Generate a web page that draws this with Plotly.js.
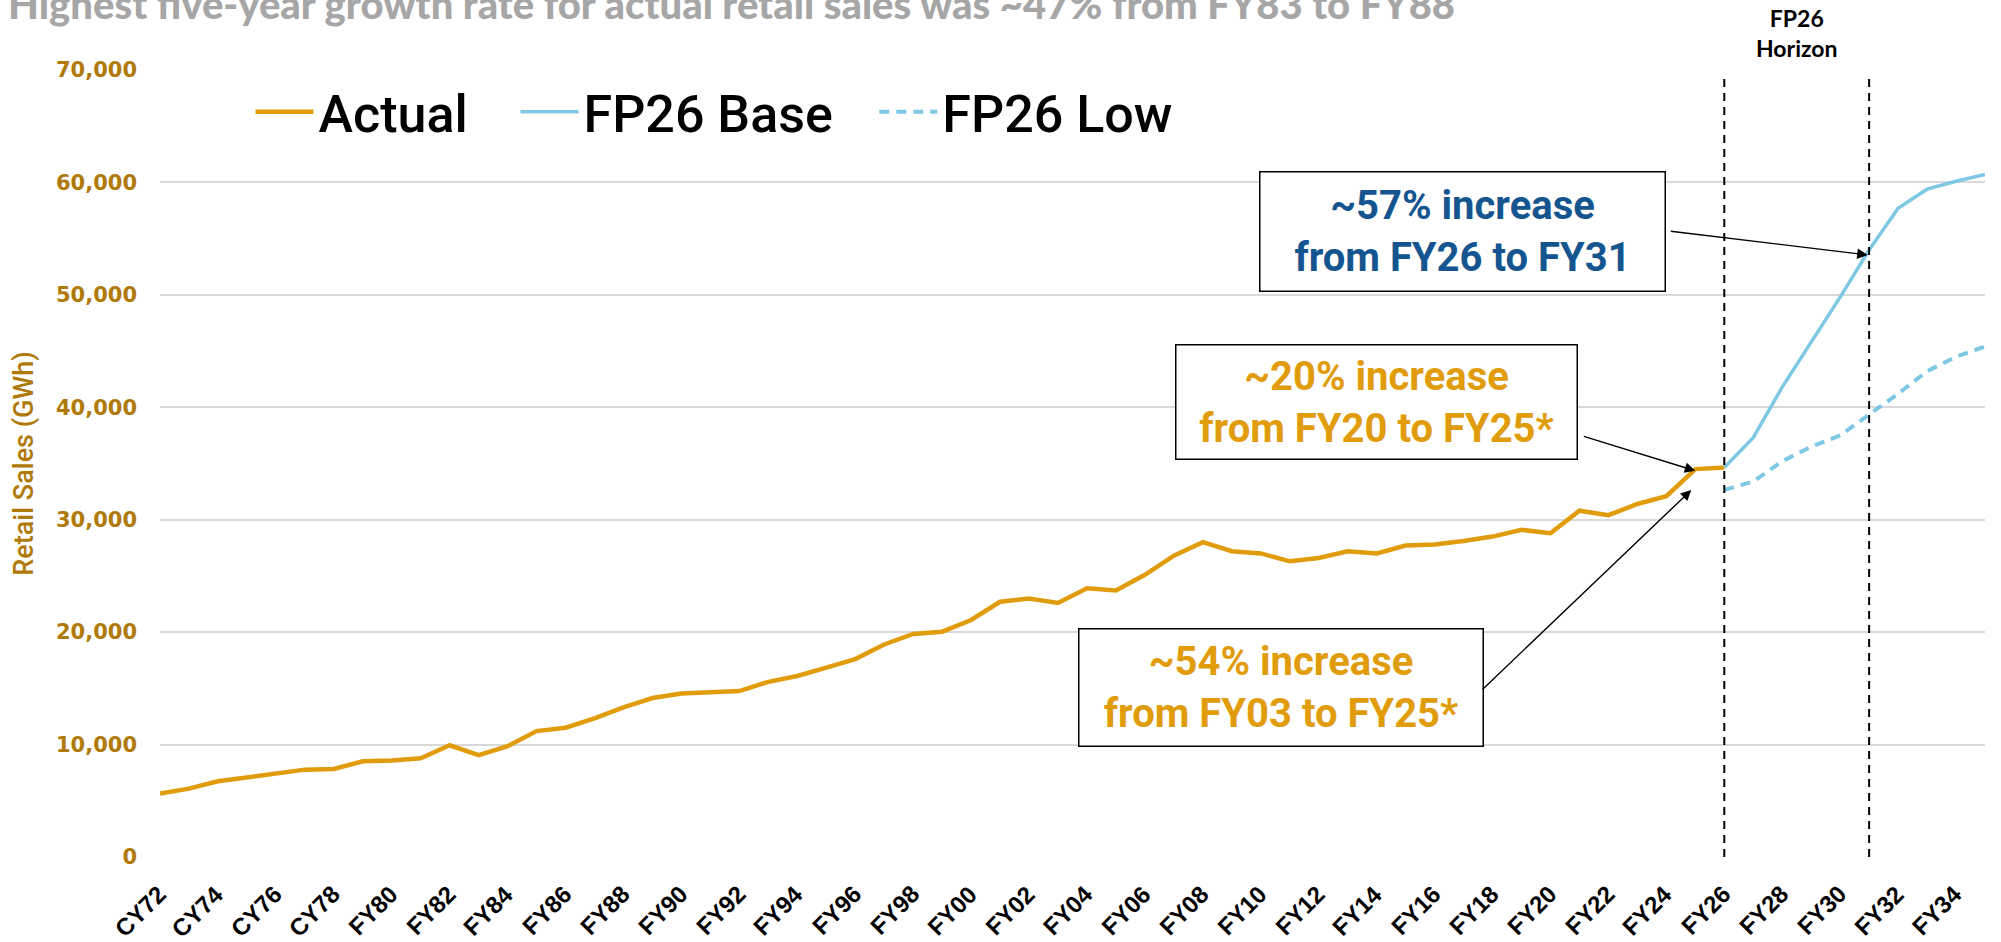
<!DOCTYPE html>
<html>
<head>
<meta charset="utf-8">
<script src="https://cdn.plot.ly/plotly-3.0.1.min.js"></script>
<style>
  html, body { margin: 0; padding: 0; background: #ffffff; }
  #chart { width: 2001px; height: 942px; }
</style>
</head>
<body>
<div id="chart"></div>
<script>
// ---- Data ----
const categories = [
  'CY72','CY73','CY74','CY75','CY76','CY77','CY78','CY79',
  'FY80','FY81','FY82','FY83','FY84','FY85','FY86','FY87','FY88','FY89',
  'FY90','FY91','FY92','FY93','FY94','FY95','FY96','FY97','FY98','FY99',
  'FY00','FY01','FY02','FY03','FY04','FY05','FY06','FY07','FY08','FY09',
  'FY10','FY11','FY12','FY13','FY14','FY15','FY16','FY17','FY18','FY19',
  'FY20','FY21','FY22','FY23','FY24','FY25','FY26','FY27','FY28','FY29',
  'FY30','FY31','FY32','FY33','FY34','FY35'
];

const actualYears = [
  'CY72','CY73','CY74','CY75','CY76','CY77','CY78','CY79',
  'FY80','FY81','FY82','FY83','FY84','FY85','FY86','FY87','FY88','FY89',
  'FY90','FY91','FY92','FY93','FY94','FY95','FY96','FY97','FY98','FY99',
  'FY00','FY01','FY02','FY03','FY04','FY05','FY06','FY07','FY08','FY09',
  'FY10','FY11','FY12','FY13','FY14','FY15','FY16','FY17','FY18','FY19',
  'FY20','FY21','FY22','FY23','FY24','FY25','FY26'
];
const actualSales = [
  5640, 6080, 6740, 7060, 7360, 7770, 7830, 8520,
  8580, 8780, 9940, 9050, 9850, 11200, 11500, 12330, 13300, 14140,
  14550, 14700, 14760, 15580, 16100, 16850, 17600, 18900, 19840, 20040,
  21080, 22700, 23000, 22600, 23900, 23700, 25100, 26800, 28000, 27200,
  27000, 26300, 26600, 27200, 27000, 27700, 27800, 28100, 28500, 29100,
  28800, 30800, 30400, 31400, 32100, 34500, 34650
];

const forecastYears = ['FY26','FY27','FY28','FY29','FY30','FY31','FY32','FY33','FY34','FY35'];
const baseSales = [34650, 37300, 41800, 45800, 49800, 54000, 57700, 59400, 60100, 60700];
const lowSales  = [32650, 33400, 35200, 36500, 37500, 39300, 41200, 43200, 44500, 45400];

const tickLabels = [
  'CY72','CY74','CY76','CY78','FY80','FY82','FY84','FY86','FY88','FY90',
  'FY92','FY94','FY96','FY98','FY00','FY02','FY04','FY06','FY08','FY10',
  'FY12','FY14','FY16','FY18','FY20','FY22','FY24','FY26','FY28','FY30',
  'FY32','FY34'
];

const horizonStart = 'FY26';
const horizonEnd = 'FY31';

// ---- Styles ----
const ORANGE = '#E19C0B';
const LIGHTBLUE = '#7EC8E3';
const DARKBLUE = '#15558F';
const GOLD = '#B07A0A';

const idx = c => categories.indexOf(c);

const traces = [
  {
    type: 'scatter', mode: 'lines', name: 'Actual',
    x: actualYears, y: actualSales,
    line: { color: ORANGE, width: 4.5 },
    legend: 'legend'
  },
  {
    type: 'scatter', mode: 'lines', name: 'FP26 Base',
    x: forecastYears, y: baseSales,
    line: { color: LIGHTBLUE, width: 3.5 },
    legend: 'legend2'
  },
  {
    type: 'scatter', mode: 'lines', name: 'FP26 Low',
    x: forecastYears, y: lowSales,
    line: { color: LIGHTBLUE, width: 4, dash: '10px,7px' },
    legend: 'legend3'
  }
];

const legendFont = { family: 'Roboto, Arial, sans-serif', size: 52, color: '#000000', weight: 500 };
const legendCommon = {
  orientation: 'h', xanchor: 'left', yanchor: 'middle',
  bgcolor: 'rgba(0,0,0,0)', borderwidth: 0, font: legendFont, itemwidth: 58
};

const boxFont = (c) => ({ family: 'Roboto, Arial, sans-serif', size: 40, color: c, weight: 'bold' });

const annotations = [
  // boxes
  {
    xref: 'x', yref: 'y', x: 44.96, y: 55680, showarrow: false,
    text: '~57% increase<br>from FY26 to FY31', font: boxFont(DARKBLUE),
    width: 396, height: 110, borderpad: 4, bordercolor: '#000', borderwidth: 1.5,
    bgcolor: '#ffffff', align: 'center'
  },
  {
    xref: 'x', yref: 'y', x: 41.99, y: 40430, showarrow: false,
    text: '~20% increase<br>from FY20 to FY25*', font: boxFont(ORANGE),
    width: 392, height: 105, borderpad: 4, bordercolor: '#000', borderwidth: 1.5,
    bgcolor: '#ffffff', align: 'center'
  },
  {
    xref: 'x', yref: 'y', x: 38.7, y: 15120, showarrow: false,
    text: '~54% increase<br>from FY03 to FY25*', font: boxFont(ORANGE),
    width: 395, height: 108, borderpad: 4, bordercolor: '#000', borderwidth: 1.5,
    bgcolor: '#ffffff', align: 'center'
  },
  // arrows
  {
    xref: 'x', yref: 'y', axref: 'x', ayref: 'y', text: '',
    x: 58.95, y: 53550, ax: 52.1, ay: 55680,
    showarrow: true, arrowhead: 2, arrowsize: 1.5, arrowwidth: 1.4, arrowcolor: '#000', standoff: 0
  },
  {
    xref: 'x', yref: 'y', axref: 'x', ayref: 'y', text: '',
    x: 53.0, y: 34350, ax: 49.1, ay: 37450,
    showarrow: true, arrowhead: 2, arrowsize: 1.5, arrowwidth: 1.4, arrowcolor: '#000', standoff: 0
  },
  {
    xref: 'x', yref: 'y', axref: 'x', ayref: 'y', text: '',
    x: 52.86, y: 32640, ax: 45.6, ay: 14770,
    showarrow: true, arrowhead: 2, arrowsize: 1.5, arrowwidth: 1.4, arrowcolor: '#000', standoff: 0
  },
  // horizon label
  {
    xref: 'x', yref: 'paper', x: (idx(horizonStart) + idx(horizonEnd)) / 2, y: 1.047,
    yanchor: 'middle', showarrow: false,
    text: 'FP26<br>Horizon',
    font: { family: 'Lato, Arial, sans-serif', size: 23, color: '#000', weight: 'bold' }
  }
];

// rotated category tick labels, placed at the category axis positions
tickLabels.forEach(lbl => {
  annotations.push({
    xref: 'x', yref: 'paper', x: lbl, y: -0.028,
    xanchor: 'right', yanchor: 'top', xshift: 12,
    showarrow: false, textangle: -45, text: lbl, borderpad: 0,
    font: { family: 'Liberation Sans, Arial, sans-serif', size: 24, color: '#000', weight: 'bold' }
  });
});

const shapes = [horizonStart, horizonEnd].map(c => ({
  type: 'line', xref: 'x', yref: 'y',
  x0: idx(c), x1: idx(c), y0: 0, y1: 69200,
  line: { color: '#000000', width: 2, dash: '8px,6px' }
}));

const layout = {
  width: 2001, height: 942,
  paper_bgcolor: '#ffffff', plot_bgcolor: '#ffffff',
  margin: { l: 160, r: 16, t: 70, b: 85 },
  title: {
    text: 'Highest five-year growth rate for actual retail sales was ~47% from FY83 to FY88',
    font: { family: 'Lato, Arial, sans-serif', size: 40, color: '#A6A6A6', weight: 900 },
    xref: 'container', yref: 'container', x: 0.004, xanchor: 'left', y: 0.9943, yanchor: 'middle'
  },
  showlegend: true,
  legend:  Object.assign({}, legendCommon, { x: 0.0496, y: 0.9466 }),
  legend2: Object.assign({}, legendCommon, { x: 0.1948, y: 0.9466 }),
  legend3: Object.assign({}, legendCommon, { x: 0.3914, y: 0.9466 }),
  xaxis: {
    type: 'category', categoryorder: 'array', categoryarray: categories,
    range: [0, categories.length - 1],
    showgrid: false, zeroline: false, showline: false, ticks: '',
    showticklabels: false,
    fixedrange: true
  },
  yaxis: {
    range: [0, 70000], dtick: 10000, tickformat: ',d',
    showgrid: true, gridcolor: '#D9D9D9', gridwidth: 2,
    zeroline: false, showline: false, ticks: '',
    ticklabelstandoff: 22,
    tickfont: { family: 'DejaVu Sans, sans-serif', size: 21, color: GOLD, weight: 'bold' },
    title: {
      text: 'Retail Sales (GWh)', standoff: 14,
      font: { family: 'Roboto, Arial, sans-serif', size: 27, color: GOLD, weight: 500 }
    },
    fixedrange: true
  },
  annotations: annotations,
  shapes: shapes,
  hovermode: false
};

Plotly.newPlot('chart', traces, layout, { displayModeBar: false, staticPlot: true });
</script>
</body>
</html>
